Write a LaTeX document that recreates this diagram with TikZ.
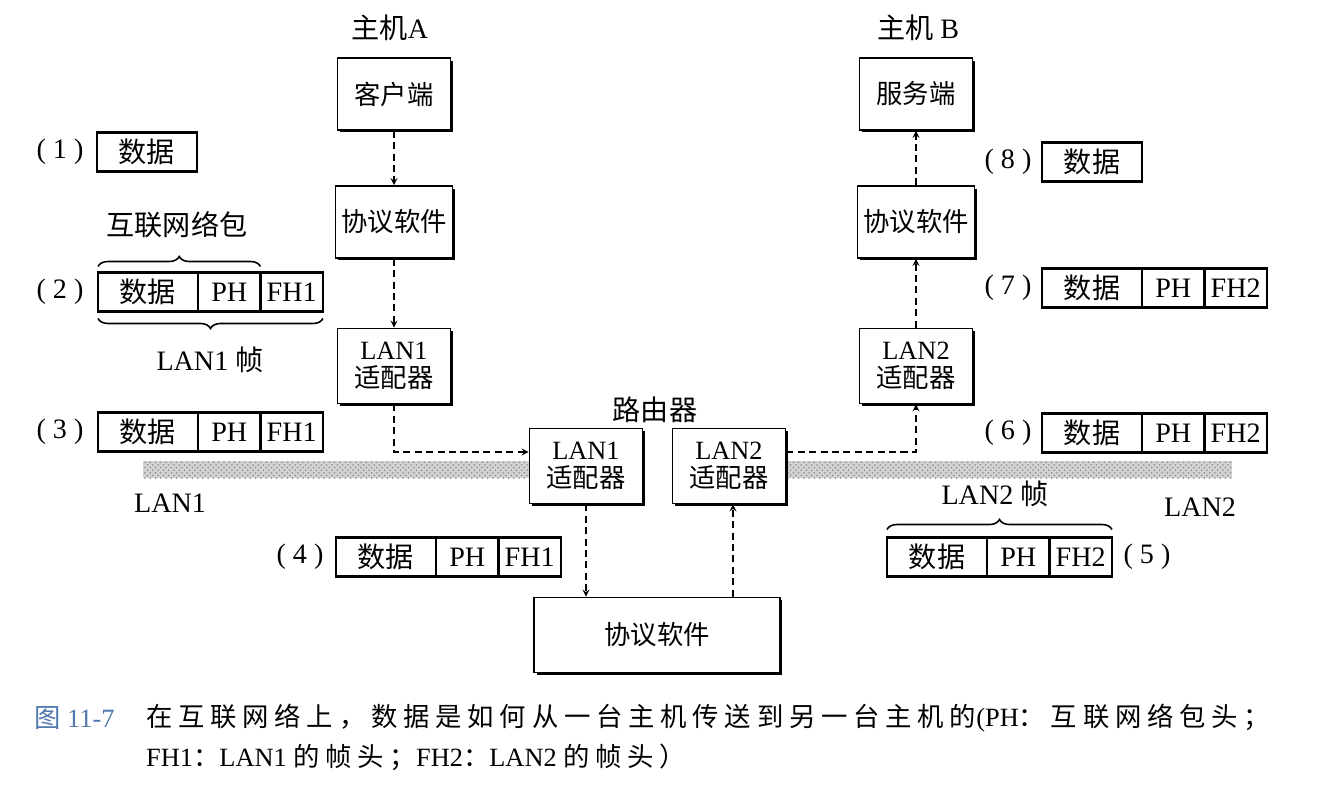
\documentclass[tikz,border=0pt]{standalone}
\usepackage{fontspec}
\setmainfont{Liberation Serif}
\newfontfamily\cjk{Noto Sans CJK SC}
\newfontfamily\cjkcap[LetterSpace=22]{Noto Sans CJK SC}
\usetikzlibrary{shadows,decorations.pathreplacing,patterns}
\definecolor{capblue}{RGB}{80,120,175}

\begin{document}
\begin{tikzpicture}[x=0.02cm,y=-0.02cm,>=stealth,
  box/.style={draw,fill=white,line width=0.9pt,align=center,minimum width=2.26cm,minimum height=1.44cm,font=\fontsize{15}{18}\selectfont,drop shadow={shadow xshift=0.05cm,shadow yshift=-0.05cm,fill=black,opacity=1}},
  cell/.style={draw,fill=white,line width=1.4pt,minimum height=0.78cm,inner sep=0pt,outer sep=0pt,anchor=west,font=\fontsize{16}{18}\selectfont},
  datacell/.style={cell,minimum width=2cm},
  hdcell/.style={cell,minimum width=1.25cm},
  tag/.style={font=\fontsize{16}{18}\selectfont},
  link/.style={->,line width=0.8pt,dash pattern=on 4pt off 2.5pt},
  lanbar/.style={fill=gray!35,postaction={pattern=crosshatch dots,pattern color=gray!90}},
  brace/.style={decorate,decoration={brace,amplitude=0.2cm},line width=0.9pt}]
\useasboundingbox (0,0) rectangle (1325,797);

\fill[lanbar] (143,461) rectangle (560,478);
\fill[lanbar] (760,461) rectangle (1232,478);
\node[tag] (lan1) at (170,503) {LAN1};
\node[tag] (lan2) at (1200,507) {LAN2};

\node[tag] (hostA) at (390,28) {{\cjk 主机}A};
\node[box] (cli) at (394,94) {\cjk 客户端};
\node[box] (protA) at (394,222) {\cjk 协议软件};
\node[box,minimum height=1.5cm] (lanA) at (394,366) {LAN1\\[-2pt]{\cjk 适配器}};

\node[tag] (hostB) at (918,28) {{\cjk 主机} B};
\node[box] (ser) at (916,94) {\cjk 服务端};
\node[box] (protB) at (916,222) {\cjk 协议软件};
\node[box,minimum height=1.5cm] (lanB) at (916,366) {LAN2\\[-2pt]{\cjk 适配器}};

\node[tag] (router) at (655,410) {\cjk 路由器};
\node[box,minimum height=1.5cm] (rlan1) at (586,466) {LAN1\\[-2pt]{\cjk 适配器}};
\node[box,minimum height=1.5cm] (rlan2) at (729,466) {LAN2\\[-2pt]{\cjk 适配器}};
\node[box,minimum width=4.92cm,minimum height=1.5cm] (rprot) at (657,635) {\cjk 协议软件};

\draw[link] (cli) -- (protA);
\draw[link] (protA) -- (lanA);
\draw[link] (lanA.south) |- ([yshift=0.28cm]rlan1.west);
\draw[link] (rlan1.south) -- (rlan1.south |- rprot.north);
\draw[link] ([xshift=0.08cm]rlan2.south |- rprot.north) -- ([xshift=0.08cm]rlan2.south);
\draw[link] ([yshift=0.28cm]rlan2.east) -| (lanB.south);
\draw[link] (lanB) -- (protB);
\draw[link] (protB) -- (ser);

\node[tag] (n1) at (60,152) {( 1 )};
\node[datacell] (d1) at (97,152) {\cjk 数据};

\node[tag] (n2) at (60,292) {( 2 )};
\node[datacell] (d2) at (98,292) {\cjk 数据};
\node[hdcell] (p2) at (d2.east) {PH};
\node[hdcell] (f2) at (p2.east) {FH1};
\draw[brace] ([yshift=0.12cm]d2.north west) -- ([yshift=0.12cm]p2.north east);
\node[tag] (pkt) at (177,225) {\cjk 互联网络包};
\draw[brace] ([yshift=-0.14cm]f2.south east) -- ([yshift=-0.14cm]d2.south west);
\node[tag] (frm1) at (210,360) {LAN1 {\cjk 帧}};

\node[tag] (n3) at (60,432) {( 3 )};
\node[datacell] (d3) at (98,432) {\cjk 数据};
\node[hdcell] (p3) at (d3.east) {PH};
\node[hdcell] (f3) at (p3.east) {FH1};

\node[tag] (n4) at (300,557) {( 4 )};
\node[datacell] (d4) at (336,557) {\cjk 数据};
\node[hdcell] (p4) at (d4.east) {PH};
\node[hdcell] (f4) at (p4.east) {FH1};

\node[tag] (n5) at (1147,557) {( 5 )};
\node[datacell] (d5) at (887,557) {\cjk 数据};
\node[hdcell] (p5) at (d5.east) {PH};
\node[hdcell] (f5) at (p5.east) {FH2};
\draw[brace] ([yshift=0.16cm]d5.north west) -- ([yshift=0.16cm]f5.north east);
\node[tag] (frm2) at (995,494) {LAN2 {\cjk 帧}};

\node[tag] (n6) at (1008,433) {( 6 )};
\node[datacell] (d6) at (1042,433) {\cjk 数据};
\node[hdcell] (p6) at (d6.east) {PH};
\node[hdcell] (f6) at (p6.east) {FH2};

\node[tag] (n7) at (1008,288) {( 7 )};
\node[datacell] (d7) at (1042,288) {\cjk 数据};
\node[hdcell] (p7) at (d7.east) {PH};
\node[hdcell] (f7) at (p7.east) {FH2};

\node[tag] (n8) at (1008,162) {( 8 )};
\node[datacell] (d8) at (1042,162) {\cjk 数据};

\node[anchor=west,font=\fontsize{15}{18}\selectfont,text=capblue] (fig) at (28,718) {{\cjk 图} 11-7};
\node[anchor=west,font=\fontsize{15}{18}\selectfont] (cap1) at (140,718) {{\cjkcap 在互联网络上，数据是如何从一台主机传送到另一台主机的}(PH{\cjkcap ：互联网络包头；}};
\node[anchor=west,font=\fontsize{15}{18}\selectfont] (cap2) at (140,757) {FH1{\cjkcap ：}LAN1 {\cjkcap 的帧头；}FH2{\cjkcap ：}LAN2 {\cjkcap 的帧头）}};
\end{tikzpicture}
\end{document}
